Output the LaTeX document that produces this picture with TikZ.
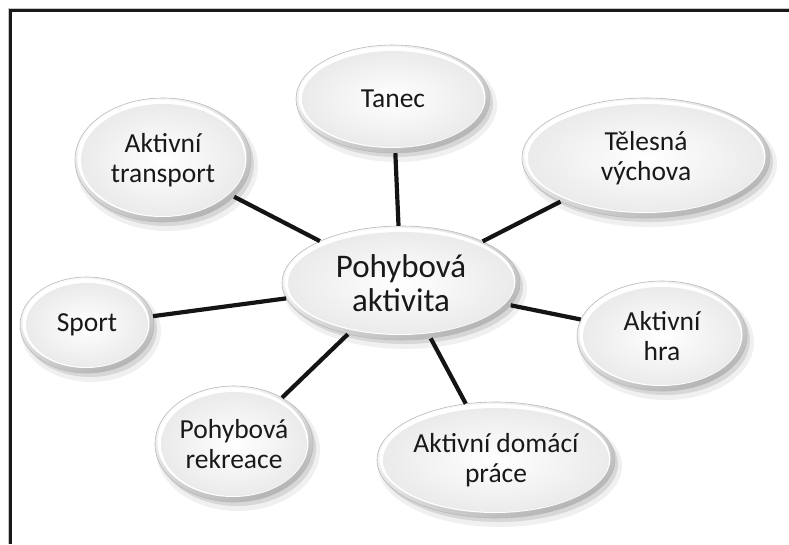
\documentclass[tikz,border=0pt]{standalone}
\usepackage{fontspec}
\setmainfont{Carlito}
\usetikzlibrary{shapes.geometric}
\begin{document}
\begin{tikzpicture}[x=1pt,y=-1pt,
  bubtext/.style={ellipse, inner sep=0pt, align=center, text=black!90,
    font=\fontsize{27.5}{30}\selectfont},
  maintext/.style={bubtext, font=\fontsize{33}{34}\selectfont},
  conn/.style={line width=4.2pt, black!92}]
\useasboundingbox (0,0) rectangle (789,544);
\fill[white] (0,0) rectangle (789,544);
% frame (only top and left edges are inside the picture)
\draw[gray!45, line width=1pt] (8,544) -- (8,8.5) -- (789,8.5);
\draw[black!90, line width=2.2pt] (10.5,544) -- (10.5,10.5) -- (789,10.5);
\newcommand{\bub}[7]{% name, x, y, rx, ry, style, text
  \fill[black, opacity=0.06] (#2+4,#3+6) ellipse [x radius=#4+3, y radius=#5+3];
  \fill[black, opacity=0.10] (#2+3,#3+4) ellipse [x radius=#4, y radius=#5];
  \shade[top color=white, bottom color=gray!60, shading angle=25, draw=gray!55, line width=0.6pt]
    (#2,#3) ellipse [x radius=#4, y radius=#5];
  \fill[white] (#2-1,#3-1.5) ellipse [x radius=#4-3.5, y radius=#5-3.5];
  \shade[inner color=white, outer color=gray!16]
    (#2,#3) ellipse [x radius=#4-6, y radius=#5-6];
  \node[#6, minimum width=2*#4, minimum height=2*#5] (#1) at (#2,#3) {#7};
}
\bub{main}{401}{283}{119}{57}{maintext}{Pohybová\\aktivita}
\bub{tanec}{393}{99}{97}{54}{bubtext}{Tanec}
\bub{transport}{163}{160}{88}{62}{bubtext}{Aktivní\\transport}
\bub{telesna}{646}{158}{124}{60}{bubtext}{Tělesná\\výchova}
\bub{sport}{87}{325}{67}{48}{bubtext}{Sport}
\bub{rekreace}{234}{444}{79}{58}{bubtext}{Pohybová\\rekreace}
\bub{hra}{662}{336}{85}{55}{bubtext}{Aktivní\\hra}
\bub{prace}{496}{460}{119}{58}{bubtext}{Aktivní domácí\\práce}
\draw[conn] (main) -- (tanec);
\draw[conn] (main) -- (transport);
\draw[conn] (main) -- (telesna);
\draw[conn] (main) -- (sport);
\draw[conn] (main) -- (rekreace);
\draw[conn] (main) -- (hra);
\draw[conn] (main) -- (prace);
\end{tikzpicture}
\end{document}
